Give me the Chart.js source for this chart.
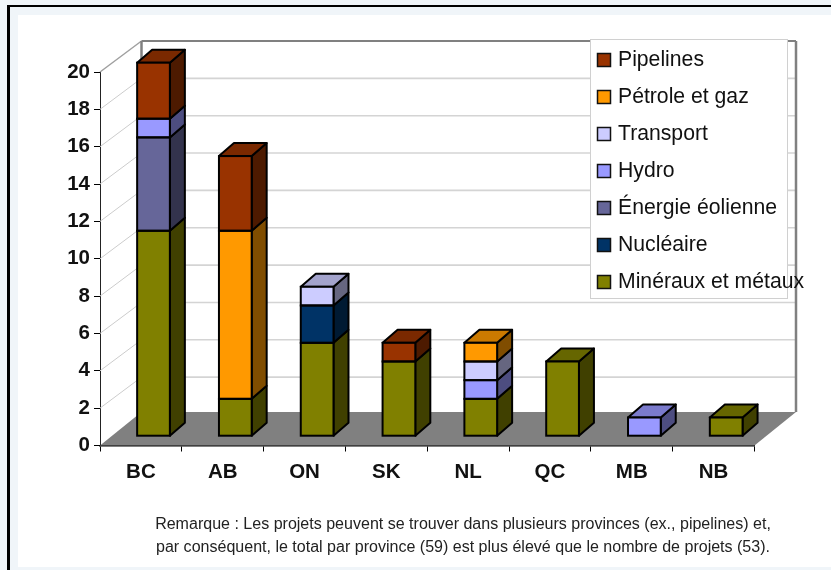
<!DOCTYPE html>
<html lang="fr">
<head>
<meta charset="utf-8">
<title>Projets par province</title>
<script src="https://cdn.jsdelivr.net/npm/chart.js"></script>
<style>
  html, body { margin: 0; padding: 0; background: #f0f5f9; overflow: hidden; }
  #frame { position: absolute; left: 7px; top: 5px; width: 831px; height: 570px; border-left: 3px solid #000; border-top: 2px solid #000; background: #f0f5f9; }
  #panel { position: absolute; left: 18px; top: 15px; width: 813px; height: 552px; background: #fff; }
  #chart { position: absolute; left: 0; top: 0; }
  #note { position: absolute; left: 18px; top: 512px; width: 890px; margin: 0; text-align: center; font: 16.05px/22.5px "Liberation Sans", Arial, sans-serif; color: #222; white-space: nowrap; }
</style>
</head>
<body>
<div id="frame"></div>
<div id="panel"></div>
<canvas id="chart" width="831" height="570"></canvas>
<p id="note">Remarque : Les projets peuvent se trouver dans plusieurs provinces (ex., pipelines) et,<br>par conséquent, le total par province (59) est plus élevé que le nombre de projets (53).</p>
<script>
  const provinces = ['BC', 'AB', 'ON', 'SK', 'NL', 'QC', 'MB', 'NB'];

  const mineraux = [11, 2, 5, 4, 2, 4, 0, 1];
  const nucleaire = [0, 0, 2, 0, 0, 0, 0, 0];
  const eolienne = [5, 0, 0, 0, 0, 0, 0, 0];
  const hydro = [1, 0, 0, 0, 1, 0, 1, 0];
  const transport = [0, 0, 1, 0, 1, 0, 0, 0];
  const petrole = [0, 9, 0, 0, 1, 0, 0, 0];
  const pipelines = [3, 4, 0, 1, 0, 0, 0, 0];

  // front, side and top face colours, the way the 3D bars are shaded
  const shades = {
    'Minéraux et métaux': ['#808000', '#404000', '#666600'],
    'Nucléaire': ['#003366', '#001a33', '#002952'],
    'Énergie éolienne': ['#666699', '#33334d', '#52527a'],
    'Hydro': ['#9999ff', '#4d4d80', '#7a7acc'],
    'Transport': ['#ccccff', '#666680', '#a3a3cc'],
    'Pétrole et gaz': ['#ff9900', '#804d00', '#cc7a00'],
    'Pipelines': ['#993300', '#4d1a00', '#7a2900']
  };

  const FONT = '"Liberation Sans", Arial, sans-serif';
  // offset of the back wall and of the bars from the front plane
  const WALL = { dx: 41.5, dy: -31, floorDy: -33.5 };
  const BAR = { dx: 12.6, dy: -9.3, sideX: 15, sideY: -13 };

  function makeSeries(label, data) {
    return {
      label,
      data,
      backgroundColor: shades[label][0],
      borderWidth: 0,
      inflateAmount: 0,
      clip: false
    };
  }

  function poly(ctx, pts, fill, stroke, width) {
    ctx.beginPath();
    pts.forEach((p, i) => { if (i) {ctx.lineTo(p[0], p[1]);} else {ctx.moveTo(p[0], p[1]);} });
    ctx.closePath();
    if (fill) {ctx.fillStyle = fill; ctx.fill();}
    if (stroke) {ctx.strokeStyle = stroke; ctx.lineWidth = width; ctx.stroke();}
  }

  function line(ctx, x1, y1, x2, y2, color, width) {
    ctx.beginPath();
    ctx.moveTo(x1, y1);
    ctx.lineTo(x2, y2);
    ctx.strokeStyle = color;
    ctx.lineWidth = width;
    ctx.stroke();
  }

  const box3d = {
    id: 'box3d',
    beforeDatasetsDraw(chart) {
      const { ctx, chartArea: a, scales: { y } } = chart;
      const w = WALL;
      ctx.save();
      // gridlines, back wall and left wall
      y.ticks.forEach(t => {
        if (t.value === 0 || t.value === 20) {return;}
        const py = y.getPixelForValue(t.value);
        line(ctx, a.left, py, a.left + w.dx, py + w.dy, '#cccccc', 1);
        line(ctx, a.left + w.dx, py + w.dy, a.right + w.dx, py + w.dy, '#d4d4d4', 1.6);
      });
      // wall outline
      line(ctx, a.left, a.top, a.left + w.dx, a.top + w.dy, '#a0a0a0', 1.5);
      line(ctx, a.left + w.dx, a.top + w.dy, a.right + w.dx, a.top + w.dy, '#808080', 2);
      line(ctx, a.left + w.dx, a.top + w.dy, a.left + w.dx, a.bottom + w.floorDy, '#808080', 2.5);
      line(ctx, a.right + w.dx, a.top + w.dy, a.right + w.dx, a.bottom + w.floorDy, '#808080', 2.5);
      // floor
      poly(ctx, [[a.left, a.bottom], [a.right, a.bottom], [a.right + w.dx, a.bottom + w.floorDy], [a.left + w.dx, a.bottom + w.floorDy]], '#808080');

      // side and top faces of the columns, built from the bar elements
      ctx.lineJoin = 'round';
      ctx.translate(BAR.dx, BAR.dy);
      const sx = BAR.sideX;
      const sy = BAR.sideY;
      provinces.forEach((_, i) => {
        let top = null;
        chart.data.datasets.forEach((ds, di) => {
          if (!ds.data[i]) {return;}
          const el = chart.getDatasetMeta(di).data[i];
          const r = el.x + el.width / 2;
          poly(ctx, [[r, el.y], [r + sx, el.y + sy], [r + sx, el.base + sy], [r, el.base]], shades[ds.label][1], '#000', 2);
          top = { el, ds };
        });
        if (top) {
          const l = top.el.x - top.el.width / 2;
          const r = top.el.x + top.el.width / 2;
          const yt = top.el.y;
          poly(ctx, [[l, yt], [l + sx, yt + sy], [r + sx, yt + sy], [r, yt]], shades[top.ds.label][2], '#000', 2);
        }
      });
      ctx.restore();
    },
    beforeDatasetDraw(chart) {
      chart.ctx.save();
      chart.ctx.translate(BAR.dx, BAR.dy);
    },
    afterDatasetDraw(chart) {
      chart.ctx.restore();
    },
    afterDatasetsDraw(chart) {
      // black outline round each front face
      const { ctx } = chart;
      ctx.save();
      ctx.translate(BAR.dx, BAR.dy);
      ctx.strokeStyle = '#000';
      ctx.lineWidth = 2;
      chart.data.datasets.forEach((ds, di) => {
        chart.getDatasetMeta(di).data.forEach((el, i) => {
          if (!ds.data[i]) {return;}
          ctx.strokeRect(el.x - el.width / 2, el.y, el.width, el.base - el.y);
        });
      });
      ctx.restore();
    },
    afterDraw(chart) {
      // legend box sits over the wall, top-down from the last series
      const { ctx } = chart;
      const items = chart.data.datasets.slice().reverse();
      ctx.save();
      ctx.fillStyle = '#fff';
      ctx.fillRect(590.5, 39.5, 197, 259);
      ctx.strokeStyle = '#d0d0d0';
      ctx.lineWidth = 1;
      ctx.strokeRect(590.5, 39.5, 197, 259);
      ctx.font = '21.2px ' + FONT;
      ctx.textBaseline = 'middle';
      items.forEach((ds, i) => {
        const cy = 59 + i * 37;
        ctx.fillStyle = ds.backgroundColor;
        ctx.fillRect(597.5, cy - 5.5, 13, 13);
        ctx.strokeStyle = '#111';
        ctx.lineWidth = 1.5;
        ctx.strokeRect(597.5, cy - 5.5, 13, 13);
        ctx.fillStyle = '#111';
        ctx.fillText(ds.label, 618, cy + 1);
      });
      ctx.restore();
    }
  };

  new Chart(document.getElementById('chart').getContext('2d'), {
    type: 'bar',
    data: {
      labels: provinces,
      datasets: [
        makeSeries('Minéraux et métaux', mineraux),
        makeSeries('Nucléaire', nucleaire),
        makeSeries('Énergie éolienne', eolienne),
        makeSeries('Hydro', hydro),
        makeSeries('Transport', transport),
        makeSeries('Pétrole et gaz', petrole),
        makeSeries('Pipelines', pipelines)
      ]
    },
    options: {
      responsive: false,
      animation: false,
      events: [],
      layout: { padding: { left: 0, top: 72, right: 76.5, bottom: 0 } },
      datasets: { bar: { barPercentage: 0.40, categoryPercentage: 1 } },
      plugins: { legend: { display: false }, title: { display: false }, tooltip: { enabled: false } },
      scales: {
        x: {
          stacked: true,
          afterFit: s => { s.height = 124.5; },
          border: { color: '#000', width: 1.5 },
          grid: { drawOnChartArea: false, drawTicks: true, tickLength: 6, color: '#000' },
          ticks: { color: '#111', padding: 9, maxRotation: 0, font: { family: FONT, size: 20.5, weight: 'bold' } }
        },
        y: {
          stacked: true,
          min: 0,
          max: 20,
          afterFit: s => { s.width = 100; },
          border: { color: '#222', width: 1 },
          grid: { drawOnChartArea: false, drawTicks: true, tickLength: 6, color: '#000' },
          ticks: { stepSize: 2, color: '#111', padding: 4, font: { family: FONT, size: 20.5, weight: 'bold' } }
        }
      }
    },
    plugins: [box3d]
  });
</script>
</body>
</html>
